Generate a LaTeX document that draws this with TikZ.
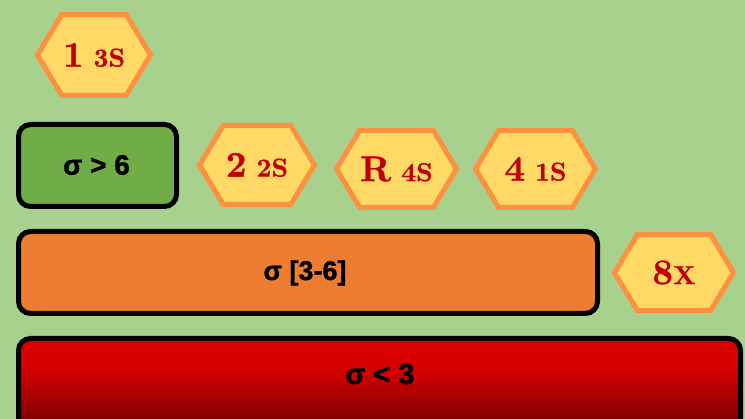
\documentclass[tikz,border=0pt]{standalone}
\usepackage{fontspec}
\newfontfamily\boxfont{Liberation Sans}[BoldFeatures={FakeBold=1.2}]
\newfontfamily\hexfont{lmroman10-bold.otf}[FakeBold=0.8]
\usetikzlibrary{shapes.symbols}
\definecolor{bg}{HTML}{A9D18E}
\definecolor{hexfill}{HTML}{FFD966}
\definecolor{hexline}{HTML}{FF9040}
\definecolor{hextext}{HTML}{C00000}
\definecolor{greenbox}{HTML}{70AD47}
\definecolor{orangebox}{HTML}{ED7D31}
\pgfdeclareverticalshading{redgrad}{100bp}{%
  rgb(0bp)=(0.42,0,0);
  rgb(25bp)=(0.44,0,0);
  rgb(37bp)=(0.53,0,0);
  rgb(60bp)=(0.83,0,0);
  rgb(75bp)=(0.87,0,0);
  rgb(100bp)=(0.87,0,0)}
\tikzset{
  hexbox/.style={shape=signal, signal to=east and west, signal pointer angle=118,
    fill=hexfill, draw=hexline, line width=5pt, inner sep=0pt, text=hextext,
    font=\hexfont},
  levelbox/.style={draw=black, line width=5pt, rounded corners=12pt, inner sep=0pt},
  leveltext/.style={font=\boxfont\bfseries\fontsize{#1}{#1}\selectfont, inner sep=0pt},
}
\newcommand{\hexlabel}[3]{{\fontsize{36}{36}\selectfont #1}{\fontsize{26}{26}\selectfont#2#3}}
\begin{document}
\begin{tikzpicture}[x=1pt,y=-1pt]
  \useasboundingbox (0,0) rectangle (745,419);
  \clip (0,0) rectangle (745,419);
  \fill[bg] (0,0) rectangle (745,419);
  \node[hexbox, minimum width=113pt, minimum height=81pt] (h1) at (94,55) {\hexlabel{1}{\ }{3S}};
  \node[levelbox, fill=greenbox, minimum width=158pt, minimum height=82pt] (g) at (97.5,165.5) {};
  \node[leveltext=28] (gt) at (96.5,165) {σ > 6};
  \node[hexbox, minimum width=115pt, minimum height=79pt] (h2) at (257,165) {\hexlabel{2}{\ }{2S}};
  \node[hexbox, minimum width=120pt, minimum height=77pt] (hr) at (396.5,169) {\hexlabel{R}{\ }{4S}};
  \node[hexbox, minimum width=120pt, minimum height=77pt] (h4) at (535.5,169) {\hexlabel{4}{\ }{1S}};
  \node[levelbox, fill=orangebox, minimum width=579pt, minimum height=82pt] (o) at (308,272.5) {};
  \node[leveltext=27] (ot) at (305,273) {σ [3-6]};
  \node[hexbox, minimum width=119pt, minimum height=76pt] (h8) at (674,272.5) {\hexlabel{8}{}{X}};
  \node[levelbox, shading=redgrad, minimum width=722pt, minimum height=104pt] (r) at (379.5,390.5) {};
  \node[leveltext=29] (rt) at (380,374) {σ < 3};
\end{tikzpicture}
\end{document}
